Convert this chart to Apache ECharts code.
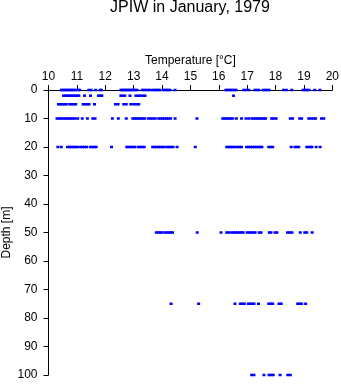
<!DOCTYPE html>
<html>
<head>
<meta charset="utf-8">
<script src="https://cdn.jsdelivr.net/npm/echarts@6/dist/echarts.min.js"></script>
<style>
  html, body { margin: 0; padding: 0; background: #fff; }
  #chart { width: 341px; height: 384px; }
</style>
</head>
<body>
<div id="chart"></div>
<script>
// Sampling depths [m] and the temperatures [°C] observed at each depth
var depths = [0, 2, 5, 10, 20, 50, 75, 100];

var temps0 = [10.45, 10.5, 10.55, 10.6, 10.65, 10.7, 10.75, 10.8, 10.85, 10.9, 10.95, 11.05, 11.1,
  11.42, 11.5, 11.66, 11.82, 11.86,
  12.55, 12.6, 12.65, 12.7, 12.75, 12.8, 12.85, 12.9, 12.95, 13.0, 13.05, 13.12,
  13.3, 13.37, 13.44, 13.52, 13.58, 13.68, 13.74, 13.8, 13.86, 13.92,
  14.04, 14.1, 14.16, 14.22, 14.28, 14.46,
  16.25, 16.31, 16.37, 16.43, 16.49, 16.55, 16.61, 16.88, 16.96,
  17.06, 17.27, 17.34, 17.41, 17.56, 17.63, 17.7, 17.77,
  18.28, 18.38, 18.57, 18.97, 19.04, 19.11, 19.18, 19.38, 19.56];

var temps2 = [10.53, 10.59, 10.65, 10.71, 10.77, 10.83, 10.89, 10.95, 11.01, 11.07,
  11.27, 11.48, 11.76, 11.84, 11.88,
  12.55, 12.62, 12.69, 12.87, 13.08, 13.16, 13.24, 13.32, 13.4, 16.52];

var temps5 = [10.35, 10.42, 10.49, 10.56, 10.63, 10.75, 10.82, 10.89, 10.96,
  11.22, 11.29, 11.36, 11.43, 11.62,
  12.36, 12.45, 12.65, 12.74, 12.9, 13.0, 13.1, 13.18];

var temps10 = [10.3, 10.37, 10.44, 10.51, 10.58, 10.65, 10.72, 10.79, 10.86, 10.93, 11.03, 11.19,
  11.37, 11.56, 11.64, 12.25, 12.46, 12.74,
  12.97, 13.04, 13.11, 13.18, 13.25, 13.32, 13.39, 13.52, 13.6, 13.68, 13.76,
  13.88, 13.95, 14.02, 14.09, 14.16, 14.23, 14.3, 14.46, 15.23,
  16.14, 16.21, 16.28, 16.35, 16.42, 16.49, 16.62, 16.8, 16.96,
  17.06, 17.17, 17.24, 17.31, 17.38, 17.45, 17.52, 17.59, 17.65,
  17.86, 17.94, 18.02, 18.52, 18.6, 18.85, 18.92,
  19.17, 19.25, 19.33, 19.41, 19.62, 19.7];

var temps20 = [10.33, 10.45, 10.67, 10.74, 10.81, 10.88, 10.95, 11.02,
  11.13, 11.2, 11.27, 11.34, 11.47, 11.54, 11.61, 11.68, 12.22,
  12.76, 12.83, 12.9, 12.97, 13.04, 13.16, 13.23, 13.3, 13.37,
  13.67, 13.74, 13.81, 13.88, 13.95, 14.02, 14.08, 14.18, 14.25, 14.32, 14.39, 14.53, 15.17,
  16.28, 16.35, 16.42, 16.49, 16.56, 16.66, 16.73, 16.8,
  16.98, 17.05, 17.12, 17.19, 17.26, 17.33, 17.4, 17.47, 17.52,
  17.76, 17.83, 17.9, 18.55, 18.68, 18.75, 18.82,
  19.1, 19.17, 19.24, 19.28, 19.43, 19.57];

var temps50 = [13.8, 13.87, 13.94, 14.0, 14.1, 14.17, 14.24, 14.31, 14.37, 15.24,
  16.08, 16.28, 16.35, 16.45, 16.52, 16.59, 16.66, 16.73, 16.8, 16.86,
  17.0, 17.07, 17.14, 17.21, 17.28, 17.42, 17.49, 17.78, 17.84, 17.98, 18.05,
  18.42, 18.5, 18.58, 18.87, 19.03, 19.1, 19.29];

var temps75 = [14.32, 15.29, 16.57, 16.76, 16.83, 16.9, 17.04, 17.11, 17.18, 17.24, 17.4,
  17.76, 17.83, 17.9, 18.12, 18.2, 18.78, 18.85, 18.92, 19.06];

var temps100 = [17.16, 17.24, 17.59, 17.77, 17.84, 17.92, 18.16, 18.43, 18.52];

var tempsByDepth = [temps0, temps2, temps5, temps10, temps20, temps50, temps75, temps100];

// Axis ranges
var tempMin = 10, tempMax = 20, tempStep = 1;
var depthMin = 0, depthMax = 100, depthStep = 10;

// Flatten into [temperature, depth] pairs
var points = [];
tempsByDepth.forEach(function (row, i) {
  row.forEach(function (t) { points.push([t, depths[i]]); });
});

var font = 'Liberation Sans, Arial, Helvetica, sans-serif';
var chart = echarts.init(document.getElementById('chart'), null, { renderer: 'canvas' });

chart.setOption({
  animation: false,
  backgroundColor: '#ffffff',
  title: {
    text: 'JPIW in January, 1979',
    left: 190,
    top: 0,
    padding: 0,
    textAlign: 'center',
    textStyle: { fontFamily: font, fontSize: 16, fontWeight: 'normal', color: '#000' }
  },
  grid: {
    left: 48.5, right: 8.7, top: 90, bottom: 9,
    containLabel: false,
    outerBoundsMode: 'none'
  },
  xAxis: {
    type: 'value',
    position: 'top',
    min: tempMin, max: tempMax, interval: tempStep,
    name: 'Temperature [°C]',
    nameLocation: 'middle',
    nameGap: 23,
    nameMoveOverlap: false,
    nameTextStyle: { fontFamily: font, fontSize: 12, color: '#000' },
    axisLine: { show: true, onZero: false, lineStyle: { color: '#000', width: 1 } },
    axisTick: { show: true, inside: false, length: 5, lineStyle: { color: '#000' } },
    axisLabel: { fontFamily: font, fontSize: 12, color: '#000', margin: 7 },
    splitLine: { show: false }
  },
  yAxis: {
    type: 'value',
    inverse: true,
    min: depthMin, max: depthMax, interval: depthStep,
    name: 'Depth [m]',
    nameLocation: 'middle',
    nameGap: 36,
    nameMoveOverlap: false,
    nameRotate: 90,
    nameTextStyle: { fontFamily: font, fontSize: 12, color: '#000' },
    axisLine: { show: true, onZero: false, lineStyle: { color: '#000', width: 1 } },
    axisTick: { show: true, inside: false, length: 5, lineStyle: { color: '#000' } },
    axisLabel: { fontFamily: font, fontSize: 12, color: '#000', margin: 11 },
    splitLine: { show: false }
  },
  series: [{
    type: 'scatter',
    data: points,
    symbol: 'rect',
    symbolSize: [3, 2.5],
    clip: false,
    z: 5,
    itemStyle: { color: '#0000ff', opacity: 1 }
  }]
});
</script>
</body>
</html>
